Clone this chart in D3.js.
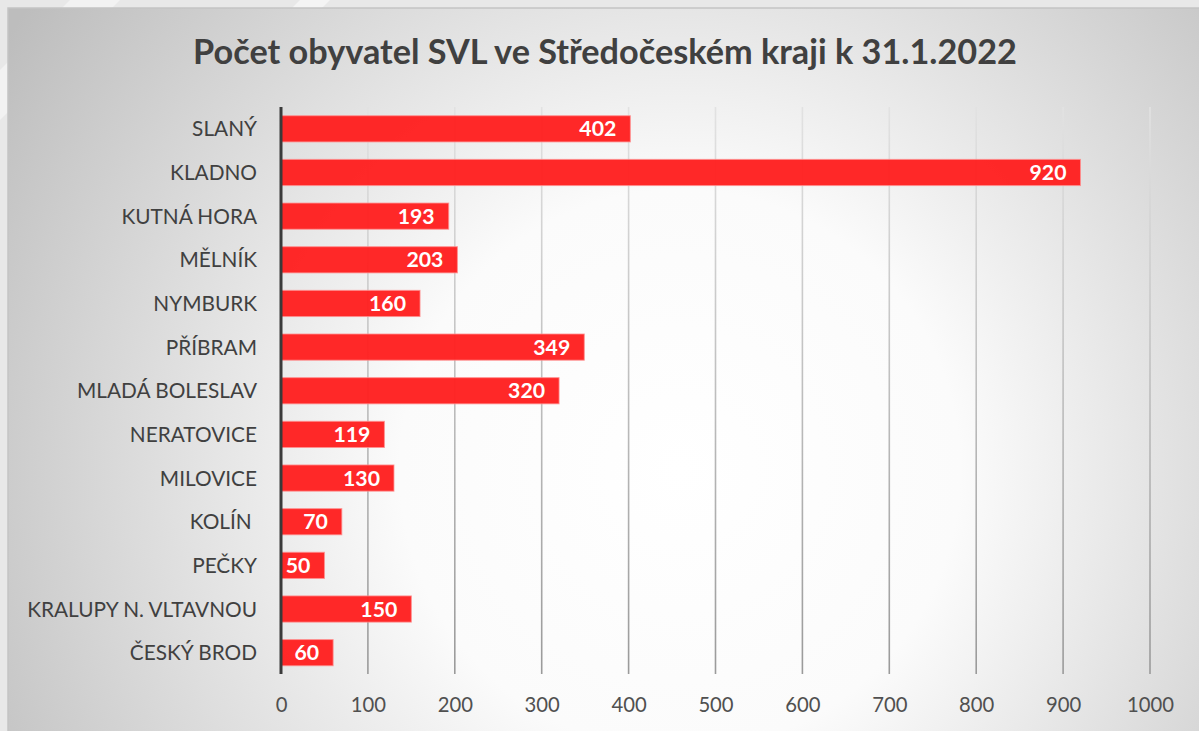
<!DOCTYPE html>
<html><head><meta charset="utf-8">
<script src="https://cdn.jsdelivr.net/npm/d3@7"></script>
<style>
html,body{margin:0;padding:0;background:#e6e6e6;}
svg{display:block;}
text{font-family:Lato,"Open Sans",sans-serif;white-space:pre;}
</style></head>
<body><svg id="chart" width="1199" height="731"></svg>
<script>
const title = "Počet obyvatel SVL ve Středočeském kraji k 31.1.2022";
const categories = ["SLANÝ","KLADNO","KUTNÁ HORA","MĚLNÍK","NYMBURK","PŘÍBRAM","MLADÁ BOLESLAV","NERATOVICE","MILOVICE","KOLÍN ","PEČKY","KRALUPY N. VLTAVNOU","ČESKÝ BROD"];
const values = [402,920,193,203,160,349,320,119,130,70,50,150,60];
const xTicks = [0,100,200,300,400,500,600,700,800,900,1000];

const W = 1199, H = 731;
const svg = d3.select("#chart");
const defs = svg.append("defs");

const rg = defs.append("radialGradient").attr("id","bg").attr("gradientUnits","userSpaceOnUse")
  .attr("cx",680).attr("cy",470).attr("r",800);
rg.append("stop").attr("offset","0").attr("stop-color","#ffffff");
rg.append("stop").attr("offset","0.35").attr("stop-color","#fbfbfb");
rg.append("stop").attr("offset","1").attr("stop-color","#bdbdbd");

const gg = defs.append("linearGradient").attr("id","grid").attr("gradientUnits","userSpaceOnUse")
  .attr("x1",0).attr("y1",107).attr("x2",0).attr("y2",674);
gg.append("stop").attr("offset","0").attr("stop-color","#e2e2e2");
gg.append("stop").attr("offset","1").attr("stop-color","#9a9a9a");

// outer decorative background
svg.append("rect").attr("width",W).attr("height",H).attr("fill","#e8e8e8");
svg.append("path").attr("d","M0,70 L70,0 L120,0 L0,120 Z").attr("fill","#f2f2f2");
svg.append("path").attr("d","M300,0 L330,0 L322,8 L292,8 Z").attr("fill","#f4f4f4");
// panel
svg.append("rect").attr("x",8).attr("y",8).attr("width",W-8).attr("height",H-8)
  .attr("fill","url(#bg)");
svg.append("path").attr("d",`M8,${H} L8,8 L${W},8`).attr("fill","none").attr("stroke","#c4c4c4").attr("stroke-width",1.5);

const x = d3.scaleLinear().domain([0,1000]).range([281,1150]);
const y = d3.scaleBand().domain(categories).range([107,674.5]).paddingInner(0.4).paddingOuter(0.2);

function fitSize(sample, target, weight){
  const t = svg.append("text").attr("font-size",100).attr("font-weight",weight).text(sample);
  const w = t.node().getComputedTextLength(); t.remove();
  return 100*target/w;
}
const titleSize = fitSize(title, 824, "bold");
const catSize = fitSize("KRALUPY N. VLTAVNOU", 230, "normal");
const tickSize = fitSize("1000", 47, "normal");
const valSize = fitSize("920", 37, "bold");

// gridlines
svg.append("g").selectAll("line").data(xTicks.filter(d=>d>0)).join("line")
  .attr("x1",d=>x(d)).attr("x2",d=>x(d)).attr("y1",107).attr("y2",674)
  .attr("stroke","url(#grid)").attr("stroke-width",1.6);

// bars
svg.append("g").selectAll("rect").data(values).join("rect")
  .attr("x",x(0)).attr("y",(d,i)=>y(categories[i]))
  .attr("width",d=>x(d)-x(0)).attr("height",y.bandwidth())
  .attr("fill","#ff1f1f").attr("fill-opacity",0.96)
  .attr("stroke","#ff9090").attr("stroke-opacity",0.8).attr("stroke-width",1);

// value labels
svg.append("g").selectAll("text").data(values).join("text")
  .attr("x",d=>x(d)-14).attr("y",(d,i)=>y(categories[i])+y.bandwidth()/2)
  .attr("dy","0.36em").attr("text-anchor","end")
  .attr("font-size",valSize).attr("font-weight","bold").attr("fill","#ffffff")
  .text(d=>d);

// y axis line
svg.append("line").attr("x1",x(0)).attr("x2",x(0)).attr("y1",107).attr("y2",674)
  .attr("stroke","#3a3a3a").attr("stroke-width",3);

// category labels
const yAxis = d3.axisLeft(y).tickSize(0).tickPadding(24);
const ya = svg.append("g").attr("transform",`translate(${x(0)},0)`).call(yAxis);
ya.select(".domain").remove();
ya.selectAll("text").attr("font-size",catSize).attr("fill","#404040")
  .attr("font-family","Lato,'Open Sans',sans-serif").attr("dy","0.36em");

// x axis tick labels
const xAxis = d3.axisBottom(x).tickValues(xTicks).tickFormat(d3.format("d")).tickSize(0).tickPadding(0);
const xa = svg.append("g").attr("transform",`translate(0,705)`).call(xAxis);
xa.select(".domain").remove();
xa.selectAll("text").attr("font-size",tickSize).attr("fill","#505050")
  .attr("font-family","Lato,'Open Sans',sans-serif").attr("dy","0.36em").attr("y",0);

// title
svg.append("text").attr("x",605).attr("y",52).attr("dy","0.36em").attr("text-anchor","middle")
  .attr("font-size",titleSize).attr("font-weight","bold").attr("fill","#404040").text(title);
</script>
</body></html>
